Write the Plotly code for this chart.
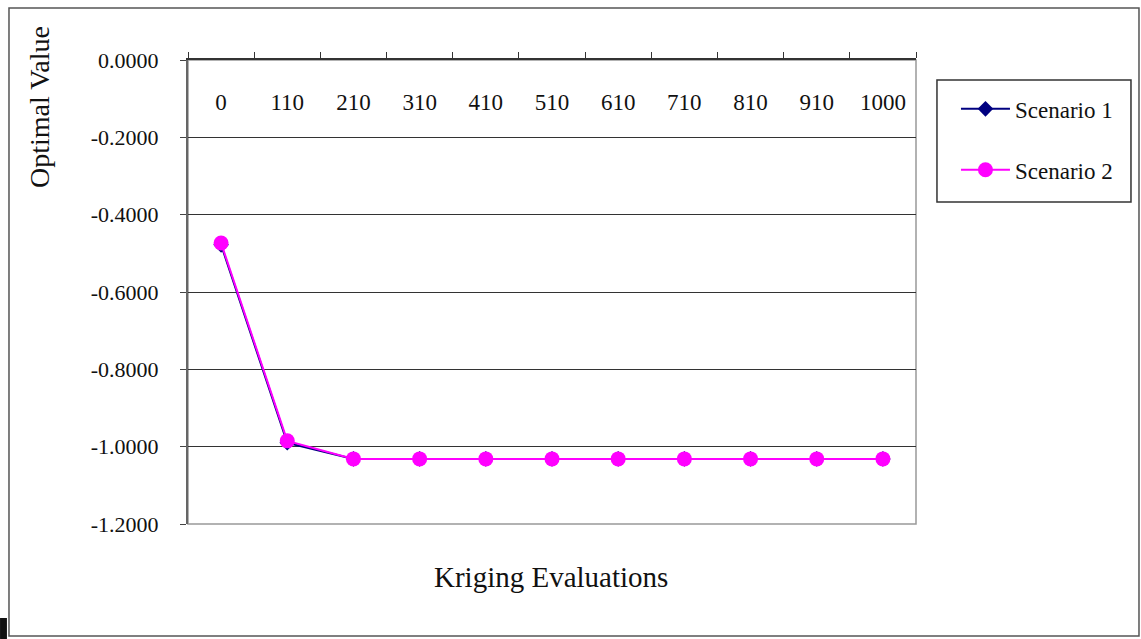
import plotly.graph_objects as go

# Kriging evaluation counts (category axis) and the optimal value found
evaluations = ["0", "110", "210", "310", "410", "510", "610", "710", "810", "910", "1000"]
scenario_1 = [-0.4780, -0.9900, -1.0316, -1.0316, -1.0316, -1.0316, -1.0316, -1.0316, -1.0316, -1.0316, -1.0316]
scenario_2 = [-0.4733, -0.9850, -1.0316, -1.0316, -1.0316, -1.0316, -1.0316, -1.0316, -1.0316, -1.0316, -1.0316]

# value-axis ticks and their printed labels
y_ticks = [0.0, -0.2, -0.4, -0.6, -0.8, -1.0, -1.2]
y_tick_text = ["0.0000", "-0.2000", "-0.4000", "-0.6000", "-0.8000", "-1.0000", "-1.2000"]

FONT = "Liberation Serif, Times New Roman, serif"

fig = go.Figure()
# Scenario 1 sits on the top category axis (line + boundary ticks);
# Scenario 2 sits on an overlaid axis that carries the category labels.
fig.add_trace(go.Scatter(
    x=evaluations, y=scenario_1, name="Scenario 1", mode="lines+markers",
    line=dict(color="#000080", width=2),
    marker=dict(symbol="diamond", size=12, color="#000080"),
    legendgroup="s1", xaxis="x", yaxis="y",
))
fig.add_trace(go.Scatter(
    x=evaluations, y=scenario_2, name="Scenario 2", mode="lines+markers",
    line=dict(color="#FF00FF", width=2),
    marker=dict(symbol="circle", size=15, color="#FF00FF"),
    legendgroup="s2", xaxis="x2", yaxis="y",
))

# plot-area frame (light grey right/bottom edges)
fig.add_shape(type="rect", xref="paper", yref="paper", x0=0, x1=1, y0=0, y1=1,
              line=dict(color="#999999", width=1.5), layer="below")
# outer chart border
fig.add_shape(type="rect", xref="paper", yref="paper",
              x0=-0.2459, x1=1.3063, y0=-0.2414, y1=1.1121,
              line=dict(color="#555555", width=1.5), layer="below")
# legend box
fig.add_shape(type="rect", xref="paper", yref="paper",
              x0=1.0288, x1=1.2953, y0=0.694, y1=0.9569,
              line=dict(color="#333333", width=1.5), layer="below")
# small dark mark at the lower-left edge
fig.add_shape(type="rect", xref="paper", yref="paper",
              x0=-0.2582, x1=-0.2487, y0=-0.2478, y1=-0.2026,
              line=dict(width=0), fillcolor="#111111")

fig.update_layout(
    width=1141, height=639,
    margin=dict(l=188, r=225, t=60, b=115),
    paper_bgcolor="white", plot_bgcolor="white",
    font=dict(family=FONT, size=20, color="#111111"),
    showlegend=True,
    legend=dict(
        x=1.0549, y=0.941, xanchor="left", yanchor="top",
        borderwidth=0, bgcolor="rgba(0,0,0,0)",
        font=dict(family=FONT, size=23),
        tracegroupgap=28, itemwidth=49,
    ),
    xaxis=dict(
        type="category", side="top", range=[-0.5, 10.5],
        showticklabels=False,
        ticks="outside", ticklen=6, tickcolor="#333333", tickson="boundaries",
        showline=True, linecolor="#333333", linewidth=1.5,
        showgrid=False, zeroline=False,
    ),
    xaxis2=dict(
        type="category", overlaying="x", anchor="free", position=0.95,
        side="bottom", range=[-0.5, 10.5],
        ticks="", showline=False, showgrid=False, zeroline=False,
        ticklabelstandoff=3,
        tickfont=dict(family=FONT, size=23),
    ),
    yaxis=dict(
        range=[-1.2, 0], tickmode="array", tickvals=y_ticks, ticktext=y_tick_text,
        ticks="outside", ticklen=6, tickcolor="#444444",
        showline=True, linecolor="#666666", linewidth=2,
        showgrid=True, gridcolor="#333333", gridwidth=1.2,
        zeroline=False, ticklabelstandoff=17,
        tickfont=dict(family=FONT, size=22),
    ),
)

fig.add_annotation(
    text="Optimal Value", xref="paper", yref="paper",
    x=-0.203, y=0.899, xanchor="center", yanchor="middle", showarrow=False,
    textangle=-90, font=dict(family=FONT, size=28, color="#111111"),
)
fig.add_annotation(
    text="Kriging Evaluations", xref="paper", yref="paper",
    x=0.4986, y=-0.114, xanchor="center", yanchor="middle", showarrow=False,
    font=dict(family=FONT, size=29, color="#111111"),
)

fig.write_html("out.html")
